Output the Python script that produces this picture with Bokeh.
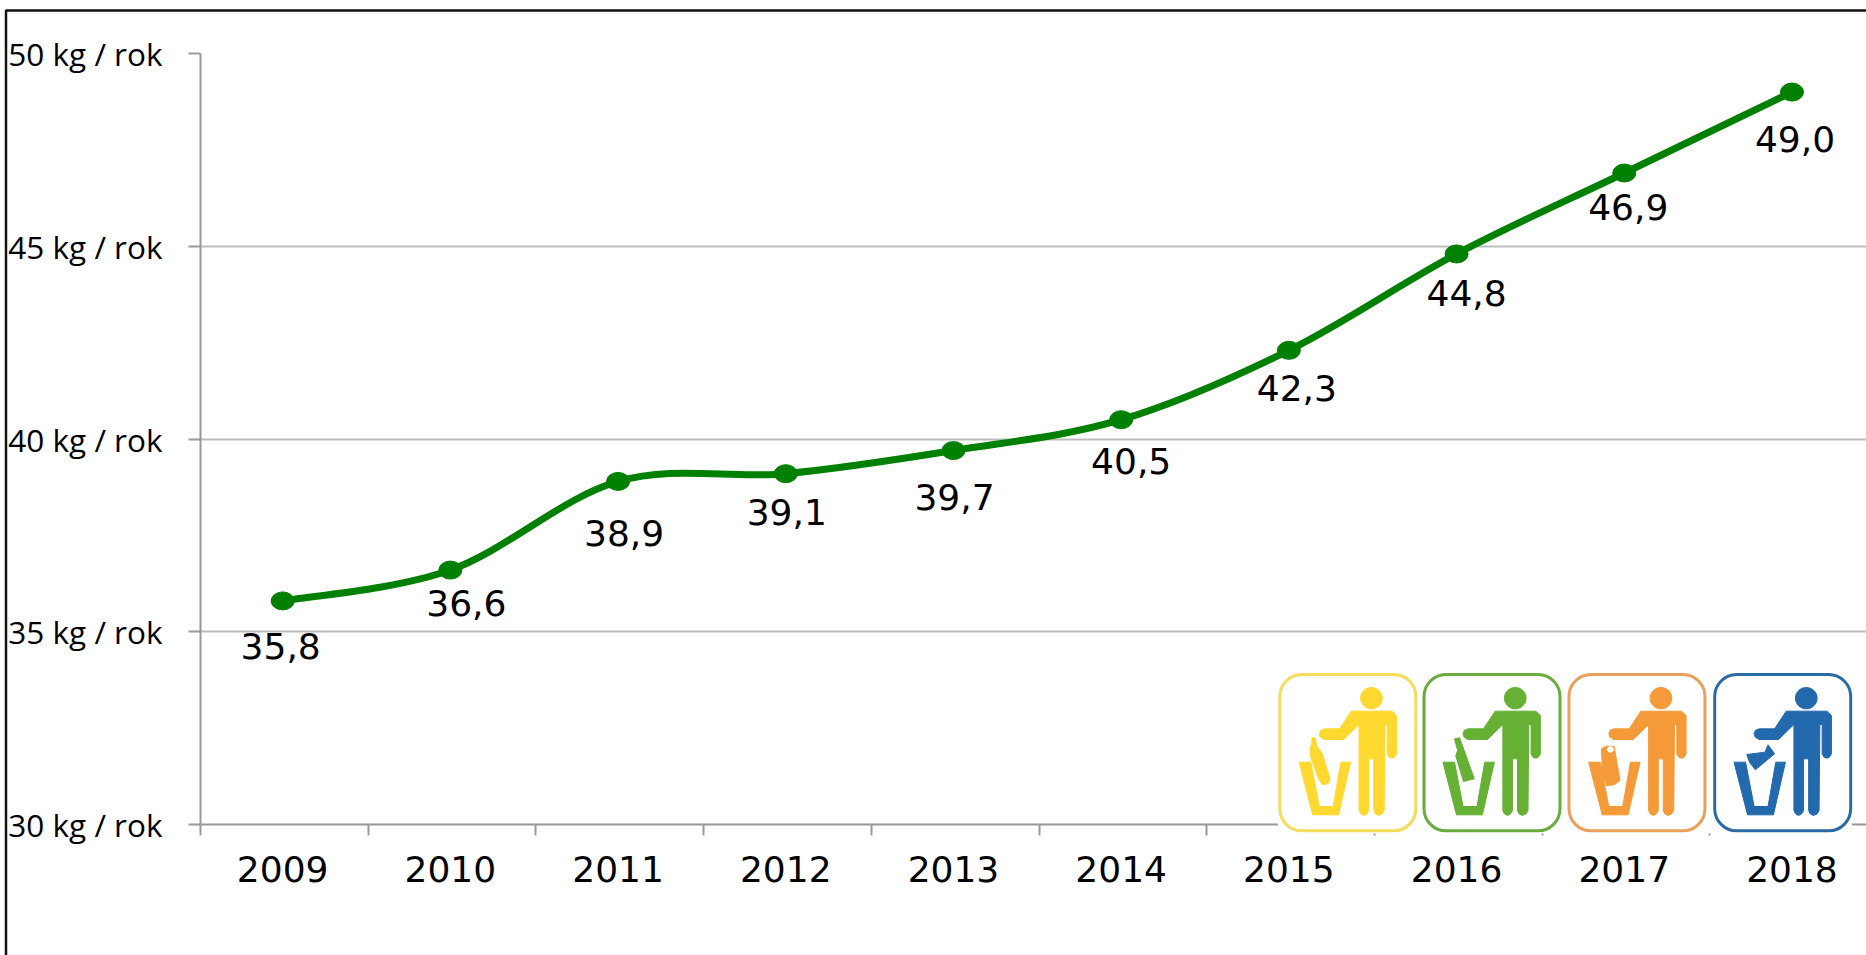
import math
from bokeh.plotting import figure, ColumnDataSource
from bokeh.embed import file_html
from bokeh.resources import INLINE
from bokeh.core.properties import value
from bokeh.models import FixedTicker, Range1d, BoxAnnotation, LinearAxis, Grid

years = [2009, 2010, 2011, 2012, 2013, 2014, 2015, 2016, 2017, 2018]
recycled = [35.8, 36.6, 38.9, 39.1, 39.7, 40.5, 42.3, 44.8, 46.9, 49.0]
labels = ["35,8", "36,6", "38,9", "39,1", "39,7", "40,5", "42,3", "44,8", "46,9", "49,0"]
y_ticks = [30, 35, 40, 45, 50]
y_tick_labels = {30: "30 kg / rok", 35: "35 kg / rok", 40: "40 kg / rok",
                 45: "45 kg / rok", 50: "50 kg / rok"}

label_dx = [-2, 16, 6, 1, 1, 10, 8, 10, 4, 3]
label_dy = [45, 33, 52, 38, 46, 41, 38, 39, 34, 47]

W, H = 1866, 955
LEFT, TOP, BOTTOM = 200, 53, 824
STEP = 167.7
PAGE = {"position": "absolute", "left": "0px", "top": "0px"}

p = figure(width=W, height=H, output_backend="svg", toolbar_location=None,
           x_range=Range1d(2008.51, 2008.51 + (W - LEFT) / STEP),
           y_range=Range1d(30, 50),
           min_border_left=LEFT, min_border_right=0, min_border_top=TOP,
           min_border_bottom=H - BOTTOM, x_axis_type=None, y_axis_type=None,
           outline_line_color=None, styles=PAGE,
           background_fill_color="white", border_fill_color="white")

xaxis = LinearAxis(ticker=FixedTicker(ticks=years, minor_ticks=[y - 0.49 for y in years] + [2018.51]))
xaxis.major_tick_line_color = None
xaxis.minor_tick_out = 11
xaxis.minor_tick_in = 0
xaxis.minor_tick_line_color = "#999999"
xaxis.minor_tick_line_width = 2
xaxis.axis_line_color = "#999999"
xaxis.axis_line_width = 2
xaxis.major_label_text_font = "DejaVu Sans"
xaxis.major_label_text_font_size = "36px"
xaxis.major_label_text_color = "#000000"
xaxis.major_label_standoff = 20
xaxis.major_label_overrides = {y: str(y) for y in years}
p.add_layout(xaxis, "below")

yaxis = LinearAxis(ticker=FixedTicker(ticks=y_ticks))
yaxis.major_label_overrides = y_tick_labels
yaxis.major_tick_out = 12
yaxis.major_tick_in = 0
yaxis.major_tick_line_color = "#999999"
yaxis.major_tick_line_width = 2
yaxis.axis_line_color = "#999999"
yaxis.axis_line_width = 2
yaxis.major_label_text_font = "Open Sans"
yaxis.major_label_text_font_size = "31.5px"
yaxis.major_label_text_color = "#000000"
yaxis.major_label_standoff = 26
p.add_layout(yaxis, "left")

p.add_layout(Grid(dimension=1, ticker=FixedTicker(ticks=y_ticks),
                  grid_line_color="#BDBDBD", grid_line_width=2))

# Smoothed connection between the data points (Excel-like cubic segments)
x0, y0, x1, y1, cx0, cy0, cx1, cy1 = [], [], [], [], [], [], [], []
n = len(years)
for i in range(n - 1):
    pm = (years[max(i - 1, 0)], recycled[max(i - 1, 0)])
    a = (years[i], recycled[i])
    b = (years[i + 1], recycled[i + 1])
    pn = (years[min(i + 2, n - 1)], recycled[min(i + 2, n - 1)])
    x0.append(a[0]); y0.append(a[1]); x1.append(b[0]); y1.append(b[1])
    cx0.append(a[0] + (b[0] - pm[0]) / 6); cy0.append(a[1] + (b[1] - pm[1]) / 6)
    cx1.append(b[0] - (pn[0] - a[0]) / 6); cy1.append(b[1] - (pn[1] - a[1]) / 6)
p.bezier(x0=x0, y0=y0, x1=x1, y1=y1, cx0=cx0, cy0=cy0, cx1=cx1, cy1=cy1,
         line_color="#008000", line_width=7)

src = ColumnDataSource(dict(x=years, y=recycled, t=labels, dx=label_dx, dy=label_dy))
p.ellipse(x="x", y="y", width=23, height=18, width_units="screen", height_units="screen",
          source=src, fill_color="#008000", line_color="#008000")
p.text(x="x", y="y", text="t", x_offset="dx", y_offset="dy", source=src,
       text_font=value("DejaVu Sans"), text_font_size="36px", text_color="#000000",
       text_align="center", text_baseline="middle")

# Transparent overlay in page pixels: picture frame and recycling pictograms
deco = figure(width=W, height=H, output_backend="svg", toolbar_location=None,
              x_range=Range1d(0, W), y_range=Range1d(H, 0),
              min_border=0, x_axis_type=None, y_axis_type=None,
              outline_line_color=None, background_fill_color=None, border_fill_color=None,
              styles=PAGE)


def sx(z):
    return 1260 + z / 2.587


def sy(z):
    return 650 + z / 3


def poly(pts, color, dx=0):
    deco.patch([sx(a + dx) for a, _ in pts], [sy(b) for _, b in pts],
               fill_color=color, line_color=color, line_width=1)


def disc(cx, cy, rx, ry, color):
    pts = [(cx + rx * math.cos(k * math.pi / 16), cy + ry * math.sin(k * math.pi / 16)) for k in range(32)]
    poly(pts, color)


PERSON = [(235, 182), (340, 182), (352, 195), (352, 310), (347, 320), (340, 323), (333, 320), (328, 310),
          (328, 222), (322, 222), (320, 480), (315, 490), (305, 495), (297, 490), (293, 480), (293, 325),
          (280, 325), (280, 480), (275, 490), (267, 495), (259, 490), (255, 480), (255, 222), (215, 267),
          (165, 267), (155, 260), (152, 250), (155, 240), (165, 235), (205, 235)]
BIN = [(100, 335), (130, 335), (152, 468), (188, 468), (208, 335), (233, 335), (202, 493), (135, 493)]

ICONS = [
    ("#FFD92F", "#F5DC5A", 50, 0,
     [(133, 262), (142, 262), (145, 285), (160, 310), (180, 385), (175, 400), (160, 402), (150, 385),
      (130, 320), (128, 295), (133, 280)]),
    ("#66B033", "#6AAB3F", 423, 372,
     [(502, 265), (515, 262), (527, 300), (553, 385), (525, 393), (505, 315), (510, 300)]),
    ("#F59A38", "#E8A05A", 798, 749,
     [(882, 295), (895, 287), (915, 288), (930, 390), (915, 403), (895, 405), (885, 370)]),
    ("#2369AD", "#2A6BA5", 1175, 1125,
     [(1258, 312), (1305, 305), (1313, 283), (1330, 310), (1280, 358), (1265, 335)]),
]

deco.add_layout(BoxAnnotation(left=sx(45), right=sx(1530), top=671, bottom=833,
                              fill_color="white", fill_alpha=1, line_color=None, level="underlay"))
for fill, edge, left, dx, obj in ICONS:
    deco.add_layout(BoxAnnotation(left=sx(left), right=sx(left) + 136, top=sy(72), bottom=sy(541),
                                  fill_alpha=0, line_color=edge, line_alpha=1, line_width=3,
                                  border_radius=22, level="underlay"))
    poly(PERSON, fill, dx)
    poly(BIN, fill, dx)
    disc(287 + dx, 143, 28, 32, fill)
    poly(obj, fill)
disc(905, 297, 8, 8, "white")

# Picture frame
deco.line([5.5, 5.5, W], [H, 10, 10], line_color="#111111", line_width=2.5)

open("out.html", "w").write(file_html([p, deco], INLINE))
